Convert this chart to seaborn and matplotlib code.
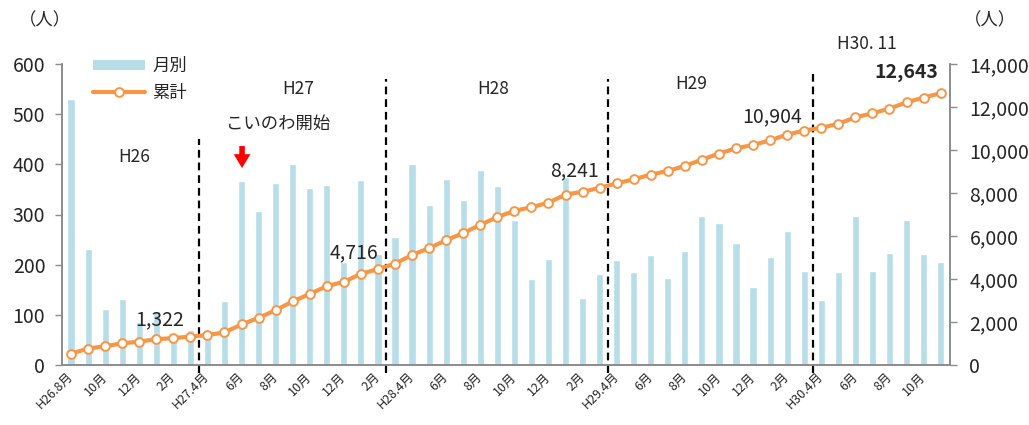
import numpy as np
import pandas as pd
import matplotlib
matplotlib.use('Agg')
import matplotlib.pyplot as plt
import seaborn as sns
from matplotlib.patches import Patch
from matplotlib.lines import Line2D
from matplotlib.ticker import FuncFormatter

# monthly users, H26.8 - H30.11
monthly = [531, 231, 112, 132, 85, 107, 55, 69,
           69, 127, 367, 306, 362, 401, 353, 358, 205, 369, 222, 255,
           400, 319, 371, 328, 388, 357, 290, 171, 211, 375, 133, 182,
           210, 185, 219, 173, 228, 297, 283, 243, 155, 215, 268, 187,
           130, 186, 297, 187, 224, 289, 221, 205]
tick_labels = ['H26.8月', '10月', '12月', '2月',
               'H27.4月', '6月', '8月', '10月', '12月', '2月',
               'H28.4月', '6月', '8月', '10月', '12月', '2月',
               'H29.4月', '6月', '8月', '10月', '12月', '2月',
               'H30.4月', '6月', '8月', '10月']
year_labels = ['H26', 'H27', 'H28', 'H29']
labelled_idx = [7, 19, 31, 43, 51]   # months whose cumulative total is written

df = pd.DataFrame({'pos': np.arange(len(monthly)), 'monthly': monthly})
df['cum'] = df['monthly'].cumsum()

sns.set_style('white')
plt.rcParams['font.family'] = ['Noto Sans CJK JP', 'DejaVu Sans']

bar_c = '#B7DDE8'
line_c = '#F79646'
axis_c = '#8C8C8C'

fig = plt.figure(figsize=(10.29, 4.25), dpi=100)
ax = fig.add_axes([62/1029, 60/425, 888/1029, 301/425])

sns.barplot(data=df, x='pos', y='monthly', color=bar_c, saturation=1, width=0.42, ax=ax)
ax2 = ax.twinx()
sns.lineplot(data=df, x='pos', y='cum', ax=ax2, color=line_c, lw=3,
             marker='o', markersize=6.3, markerfacecolor='white',
             markeredgecolor=line_c, markeredgewidth=1.4, zorder=5)

ax.set_xlim(-0.53, 51.55)
ax.set_ylim(0, 600)
ax2.set_ylim(0, 14000)
ax.set_xlabel('')
ax.set_ylabel('')
ax2.set_xlabel('')
ax2.set_ylabel('')

ax.set_yticks(range(0, 601, 100))
ax2.set_yticks(range(0, 14001, 2000))
ax2.yaxis.set_major_formatter(FuncFormatter(lambda v, p: f'{int(v):,}'))

ax.set_xticks(range(0, len(monthly), 2))
ax.set_xticklabels(tick_labels, rotation=45, ha='right', va='center',
                   rotation_mode='anchor', fontsize=9)
ax.set_xticks(np.arange(-0.5, len(monthly), 1), minor=True)
ax.tick_params(axis='x', which='major', length=0, pad=7)
ax.tick_params(axis='x', which='minor', length=4, color=axis_c, width=1)
ax.tick_params(axis='y', length=5, color=axis_c, width=1, labelsize=14, pad=7)
ax2.tick_params(axis='y', length=5, color=axis_c, width=1, labelsize=14, pad=9)

for a in (ax, ax2):
    a.spines['top'].set_visible(False)
    for s in ('left', 'right', 'bottom'):
        a.spines[s].set_color(axis_c)
        a.spines[s].set_linewidth(1.2)
ax.grid(False)
ax2.grid(False)

# fiscal year separators
for x, top in [(7.5, 450), (18.5, 570), (31.5, 570), (43.5, 580)]:
    ax.plot([x, x], [-16, top], color='black', lw=1.6, ls=(0, (3.5, 2.2)),
            clip_on=False, zorder=6)

# year labels
for (x, y), t in zip([(3.7, 415), (13.3, 551), (24.75, 551), (36.4, 561)], year_labels):
    ax.text(x, y, t, ha='center', va='center', fontsize=12.5)
ax.text(46.7, 640, 'H30. 11', ha='center', va='center', fontsize=12.5)
ax.text(12.17, 481, 'こいのわ開始', ha='center', va='center', fontsize=12.5)
ax.annotate('', xy=(10.03, 387), xytext=(10.03, 442),
            arrowprops=dict(arrowstyle='simple,head_width=1.2,head_length=1.0,tail_width=0.4',
                            color='red', lw=0), zorder=7)

# cumulative labels
for i, (x, y) in zip(labelled_idx, [(5.22, 90), (16.6, 223), (29.5, 388), (41.1, 494), (49.0, 584)]):
    bold = 'bold' if i == labelled_idx[-1] else 'normal'
    ax.text(x, y, f'{df["cum"][i]:,}', ha='center', va='center', fontsize=14,
            fontweight=bold, zorder=8)

fig.text(45/1029, 1 - 20/425, '（人）', ha='center', va='center', fontsize=12.5)
fig.text(990/1029, 1 - 20/425, '（人）', ha='center', va='center', fontsize=12.5)

handles = [Patch(facecolor=bar_c, edgecolor='none'),
           Line2D([0], [0], color=line_c, lw=3, marker='o', markersize=6.3,
                  markerfacecolor='white', markeredgecolor=line_c, markeredgewidth=1.4)]
ax.legend(handles, ['月別', '累計'], loc='upper left', frameon=False, fontsize=12.5,
          bbox_to_anchor=(93/1029, 1 - 57/425), bbox_transform=fig.transFigure,
          borderaxespad=0, borderpad=0, handlelength=3.0, handleheight=0.5,
          handletextpad=0.4, labelspacing=0.5)

fig.savefig('out.png', dpi=100)
